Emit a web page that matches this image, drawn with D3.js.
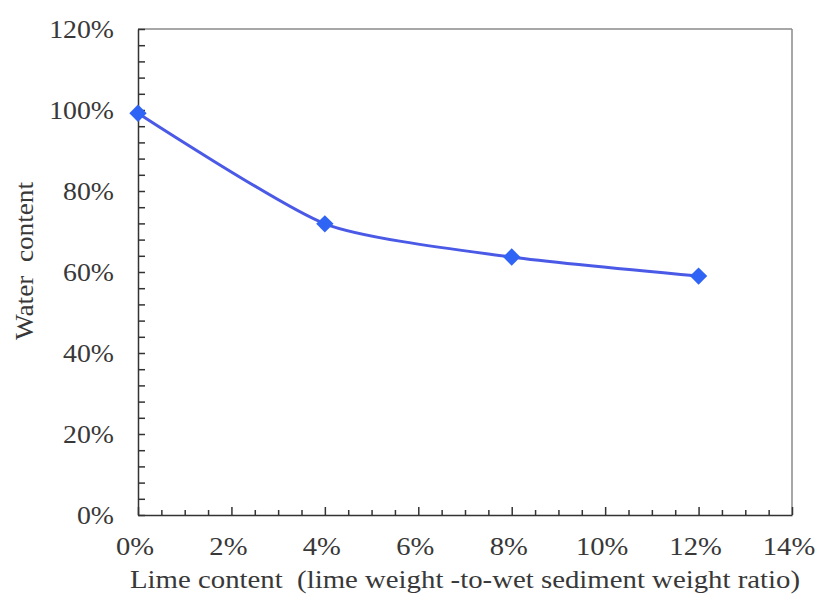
<!DOCTYPE html>
<html><head><meta charset="utf-8">
<script src="https://cdn.jsdelivr.net/npm/d3@7"></script>
<style>body{margin:0;background:#fff} text{white-space:pre}</style>
</head><body>
<svg id="c" width="816" height="604"></svg>
<script>
const limeContent = [0, 4, 8, 12];
const waterContent = [99.2, 71.9, 63.7, 59.0];
const xTicks = [0, 2, 4, 6, 8, 10, 12, 14];
const yTicks = [0, 20, 40, 60, 80, 100, 120];
const xTitle = "Lime content  (lime weight -to-wet sediment weight ratio)";
const yTitle = "Water  content";

const svg = d3.select("#c");
const L = 138, R = 792, T = 29, B = 515;
const x = d3.scaleLinear().domain([0, 14]).range([L, R]);
const y = d3.scaleLinear().domain([0, 120]).range([B, T]);
const font = "'Liberation Serif', 'Times New Roman', serif";
const txt = "#383838";

// frame
svg.append("line").attr("x1", L).attr("x2", R).attr("y1", T).attr("y2", T).attr("stroke", "#8a8a8a").attr("stroke-width", 1.5);
svg.append("line").attr("x1", R).attr("x2", R).attr("y1", T).attr("y2", B).attr("stroke", "#8a8a8a").attr("stroke-width", 1.5);

// y axis
const ya = d3.axisLeft(y).tickValues(d3.range(0, 121, 4)).tickSize(-7).tickFormat("").tickSizeOuter(0);
svg.append("g").attr("transform", `translate(${L},0)`).call(ya)
  .call(g => g.selectAll("line,path").attr("stroke", "#333").attr("stroke-width", 1.5));
svg.append("g").selectAll("text").data(yTicks).join("text")
  .attr("transform", d => `translate(${L - 24},${y(d)}) scale(1.07,1)`)
  .attr("dy", "0.35em").attr("text-anchor", "end")
  .attr("font-family", font).attr("font-size", 26).attr("fill", txt)
  .text(d => d + "%");

// x axis
const xa = d3.axisBottom(x).tickValues(d3.range(0, 14.01, 0.5)).tickSize(-5).tickFormat("").tickSizeOuter(0);
const xg = svg.append("g").attr("transform", `translate(0,${B})`).call(xa);
xg.selectAll("line,path").attr("stroke", "#333").attr("stroke-width", 1.5);
xg.selectAll(".tick line").attr("y2", d => (Math.abs(d % 2) < 1e-6 ? -8 : -5));
svg.append("g").selectAll("text").data(xTicks).join("text")
  .attr("transform", d => `translate(${x(d) - 3},${B + 40}) scale(1.1,1)`)
  .attr("text-anchor", "middle")
  .attr("font-family", font).attr("font-size", 26).attr("fill", txt)
  .text(d => d + "%");

// titles
svg.append("text").attr("x", 130).attr("y", 588)
  .attr("textLength", 670).attr("lengthAdjust", "spacingAndGlyphs")
  .attr("font-family", font).attr("font-size", 25).attr("fill", txt).text(xTitle);
svg.append("text").attr("transform", `translate(33,340) rotate(-90)`)
  .attr("textLength", 158).attr("lengthAdjust", "spacingAndGlyphs")
  .attr("font-family", font).attr("font-size", 25).attr("fill", txt).text(yTitle);

// series
const pts = limeContent.map((d, i) => [d, waterContent[i]]);
const line = d3.line().x(d => x(d[0])).y(d => y(d[1])).curve(d3.curveCardinal.tension(0.35));
svg.append("path").attr("d", line(pts)).attr("fill", "none").attr("stroke", "#4a5ae6").attr("stroke-width", 3);
const sym = d3.symbol().type(d3.symbolSquare).size(150);
svg.append("g").selectAll("path").data(pts).join("path")
  .attr("d", sym).attr("transform", d => `translate(${x(d[0])},${y(d[1])}) rotate(45)`)
  .attr("fill", "#2f64f4");
</script>
</body></html>
